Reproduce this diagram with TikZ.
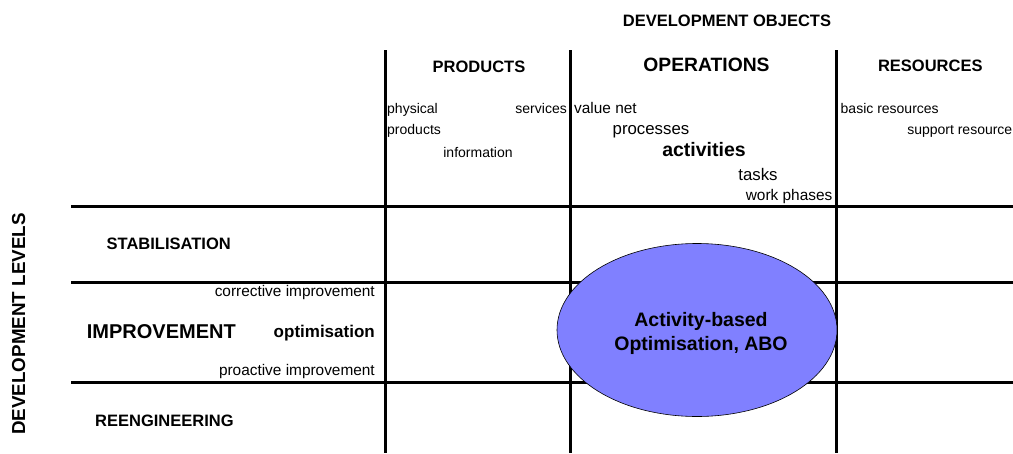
\documentclass[tikz,border=0pt]{standalone}
\usepackage{fontspec}
\setmainfont{Liberation Sans}
\usetikzlibrary{shapes.geometric}
\begin{document}
\begin{tikzpicture}[x=1pt,y=-1pt,
  grid/.style={line width=3pt},
  lbl/.style={inner sep=0pt,font=\fontsize{14}{16}\selectfont},
  mid/.style={inner sep=0pt,font=\fontsize{15.4}{17}\selectfont},
  big/.style={inner sep=0pt,font=\fontsize{16.8}{19}\selectfont},
  hdr/.style={inner sep=0pt,font=\bfseries\fontsize{16.5}{19}\selectfont},
  abo/.style={ellipse,draw=black,line width=0.6pt,fill={rgb,255:red,128;green,128;blue,255},
    minimum width=280pt,minimum height=173pt,inner sep=0pt,align=center,
    font=\bfseries\fontsize{19.5}{24}\selectfont}]
\useasboundingbox (0,0) rectangle (1013,453);
% grid
\draw[grid] (385,50) -- (385,453);
\draw[grid] (570,50) -- (570,453);
\draw[grid] (836,50) -- (836,453);
\draw[grid] (71,206) -- (1013,206);
\draw[grid] (71,282) -- (1013,282);
\draw[grid] (71,382) -- (1013,382);
% ellipse
\node[abo] (ABO) at (697,330) {};
\node[inner sep=0pt,font=\bfseries\fontsize{19.5}{24}\selectfont,anchor=base] (abo1) at (701,326.7) {Activity-based};
\node[inner sep=0pt,font=\bfseries\fontsize{19.5}{24}\selectfont,anchor=base] (abo2) at (701,350.7) {Optimisation, ABO};
% headers
\node[hdr,anchor=base] (devobj) at (727,26.7) {DEVELOPMENT OBJECTS};
\node[hdr,anchor=base] (prod) at (479,72) {PRODUCTS};
\node[inner sep=0pt,font=\bfseries\fontsize{19.3}{22}\selectfont,anchor=base] (oper) at (706.5,71.7) {OPERATIONS};
\node[hdr,anchor=base] (res) at (930.3,71.7) {RESOURCES};
\node[inner sep=0pt,font=\bfseries\fontsize{18.8}{22}\selectfont,anchor=base,rotate=90] (devlev) at (25,324) {DEVELOPMENT LEVELS};
% products column
\node[lbl,anchor=base west] (phys) at (387,113.3) {physical};
\node[lbl,anchor=base west] (prods) at (387,134.3) {products};
\node[lbl,anchor=base east] (serv) at (567,113.3) {services};
\node[lbl,anchor=base] (info) at (478,157.7) {information};
% operations column
\node[mid,anchor=base west] (vnet) at (574,113.3) {value net};
\node[big,anchor=base] (proc) at (651,134.3) {processes};
\node[inner sep=0pt,font=\bfseries\fontsize{19.5}{22}\selectfont,anchor=base] (act) at (704,156.7) {activities};
\node[big,anchor=base] (tasks) at (758,180) {tasks};
\node[mid,anchor=base east] (wph) at (832.5,200) {work phases};
% resources column
\node[lbl,anchor=base west] (bres) at (840.5,113.3) {basic resources};
\node[lbl,anchor=base east] (sres) at (1012.5,134) {support resource};
% levels
\node[hdr,anchor=base west] (stab) at (106.5,249.3) {STABILISATION};
\node[mid,anchor=base east] (corr) at (375,296.7) {corrective improvement};
\node[inner sep=0pt,font=\bfseries\fontsize{20}{22}\selectfont,anchor=base west] (impr) at (86.7,338.3) {IMPROVEMENT};
\node[inner sep=0pt,font=\bfseries\fontsize{17}{20}\selectfont,anchor=base east] (optim) at (375,337.3) {optimisation};
\node[mid,anchor=base east] (proa) at (375,375.7) {proactive improvement};
\node[hdr,anchor=base west] (reeng) at (95,426.7) {REENGINEERING};
\end{tikzpicture}
\end{document}
